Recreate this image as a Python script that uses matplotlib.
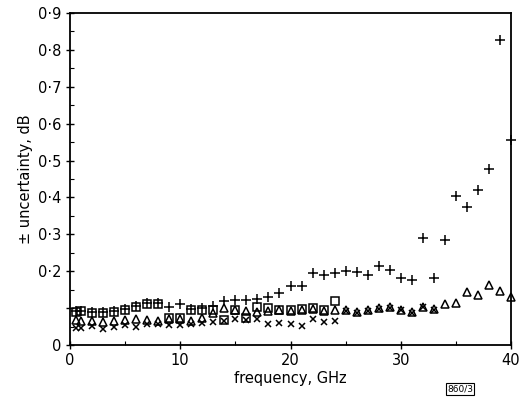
import matplotlib
matplotlib.use("Agg")
import matplotlib.pyplot as plt
from matplotlib.ticker import MultipleLocator, FixedLocator

# frequency points, GHz
freq_all = [0.5] + list(range(1, 41))

# "+" series (0.5 .. 40 GHz)
plus_vals = [0.092, 0.093, 0.090, 0.090, 0.092, 0.097, 0.105, 0.113, 0.115, 0.103,
             0.112, 0.098, 0.099, 0.105, 0.118, 0.121, 0.123, 0.125, 0.131, 0.140,
             0.160, 0.160, 0.196, 0.189, 0.195, 0.200, 0.198, 0.190, 0.215, 0.204,
             0.182, 0.177, 0.289, 0.181, 0.285, 0.405, 0.374, 0.420, 0.478, 0.827,
             0.556]

# square series (0.5 .. 24 GHz)
square_freq = [0.5] + list(range(1, 25))
square_vals = [0.090, 0.092, 0.088, 0.088, 0.090, 0.095, 0.103, 0.110, 0.112, 0.074,
               0.074, 0.095, 0.094, 0.095, 0.068, 0.095, 0.072, 0.102, 0.100, 0.095,
               0.095, 0.097, 0.100, 0.095, 0.118]

# triangle series (0.5 .. 40 GHz)
tri_vals = [0.067, 0.066, 0.065, 0.063, 0.066, 0.068, 0.070, 0.068, 0.066, 0.070,
            0.070, 0.066, 0.072, 0.088, 0.099, 0.095, 0.093, 0.090, 0.093, 0.095,
            0.093, 0.095, 0.097, 0.093, 0.095, 0.094, 0.090, 0.094, 0.100, 0.102,
            0.096, 0.090, 0.104, 0.097, 0.111, 0.115, 0.145, 0.136, 0.162, 0.146,
            0.131]

# cross series (0.5 .. 33 GHz)
cross_freq = [0.5] + list(range(1, 34))
cross_vals = [0.045, 0.047, 0.052, 0.043, 0.050, 0.054, 0.048, 0.056, 0.057, 0.054,
              0.054, 0.056, 0.060, 0.063, 0.066, 0.070, 0.068, 0.070, 0.058, 0.060,
              0.058, 0.052, 0.070, 0.063, 0.066, 0.092, 0.088, 0.092, 0.098, 0.100,
              0.094, 0.088, 0.102, 0.095]

y_tick_vals = [0, 0.1, 0.2, 0.3, 0.4, 0.5, 0.6, 0.7, 0.8, 0.9]
y_tick_labels = ["0", "", "0·2", "0·3", "0·4", "0·5", "0·6", "0·7", "0·8", "0·9"]
x_tick_vals = [0, 10, 20, 30, 40]

plt.rcParams['font.family'] = ['DejaVu Sans']

fig = plt.figure(figsize=(5.2, 3.98), dpi=100)
ax = fig.add_axes([70/520, 1-345/398, 441/520, 332/398])

ms = 6
mew = 1.1
ax.plot(freq_all, plus_vals, linestyle='none', marker='+', ms=ms+1, mew=mew, color='black', clip_on=False)
ax.plot(square_freq, square_vals, linestyle='none', marker='s', ms=ms-0.5, mew=mew,
        mfc='none', mec='black', clip_on=False)
ax.plot(freq_all, tri_vals, linestyle='none', marker='^', ms=ms-0.5, mew=mew,
        mfc='none', mec='black', clip_on=False)
ax.plot(cross_freq, cross_vals, linestyle='none', marker='x', ms=ms-1.5, mew=mew,
        color='black', clip_on=False)

ax.set_xlim(0, 40)
ax.set_ylim(0, 0.9)
ax.xaxis.set_major_locator(FixedLocator(x_tick_vals))
ax.xaxis.set_minor_locator(MultipleLocator(5))
ax.yaxis.set_major_locator(FixedLocator(y_tick_vals))
ax.yaxis.set_minor_locator(MultipleLocator(0.05))
ax.set_yticklabels(y_tick_labels)
ax.set_xticklabels([str(v) for v in x_tick_vals])

ax.tick_params(axis='both', which='major', direction='inout', length=6, width=1,
               labelsize=10.5, colors='black')
ax.tick_params(axis='both', which='minor', direction='in', length=3, width=0.8)
ax.tick_params(axis='x', pad=3)
ax.tick_params(axis='y', pad=3)
for s in ax.spines.values():
    s.set_linewidth(1.3)
    s.set_color('black')

ax.set_xlabel("frequency, GHz", fontsize=10.5, labelpad=2)
ax.set_ylabel("± uncertainty, dB", fontsize=10.5, labelpad=4)

fig.text(460/520, 1-389/398, "860/3", fontsize=6.5, ha='center', va='center',
         bbox=dict(boxstyle='square,pad=0.15', fc='white', ec='black', lw=0.8))

fig.savefig("out.png", dpi=100)
